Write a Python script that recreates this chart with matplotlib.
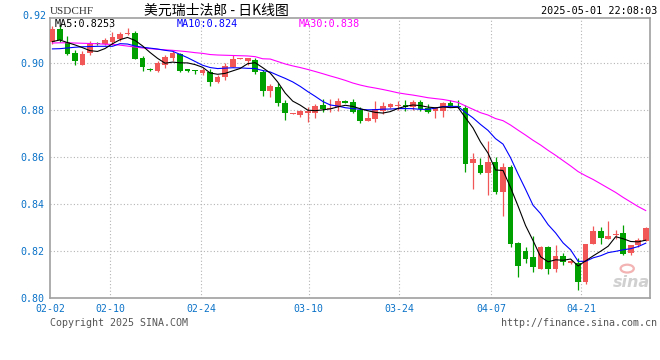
import numpy as np
import pandas as pd
import matplotlib
matplotlib.use("Agg")
import matplotlib.pyplot as plt
from matplotlib.patches import Ellipse

# ---------------- data ----------------
opens = [0.9089, 0.9145, 0.9089, 0.9043, 0.8993, 0.9043, 0.9086, 0.9081, 0.9089, 0.9103,
         0.9123, 0.9129, 0.9021, 0.8976, 0.8967, 0.8993, 0.9021, 0.9038, 0.8970, 0.8966,
         0.8957, 0.8963, 0.8920, 0.8939, 0.8984, 0.9017, 0.9010, 0.9013, 0.8960, 0.8882,
         0.8899, 0.8831, 0.8783, 0.8779, 0.8788, 0.8788, 0.8821, 0.8804, 0.8814, 0.8840,
         0.8834, 0.8800, 0.8755, 0.8762, 0.8797, 0.8811, 0.8818, 0.8822, 0.8814, 0.8833,
         0.8807, 0.8796, 0.8797, 0.8829, 0.8818, 0.8810, 0.8573, 0.8566, 0.8533, 0.8577,
         0.8450, 0.8556, 0.8233, 0.8200, 0.8173, 0.8123, 0.8218, 0.8122, 0.8179, 0.8148,
         0.8148, 0.8069, 0.8230, 0.8285, 0.8250, 0.8267, 0.8275, 0.8190, 0.8226, 0.8244]
highs = [0.9157, 0.9160, 0.9114, 0.9057, 0.9051, 0.9095, 0.9091, 0.9106, 0.9132, 0.9132,
         0.9149, 0.9135, 0.9028, 0.8980, 0.9010, 0.9035, 0.9050, 0.9043, 0.8975, 0.8972,
         0.8979, 0.8973, 0.8947, 0.8998, 0.9034, 0.9023, 0.9021, 0.9021, 0.8970, 0.8911,
         0.8917, 0.8843, 0.8789, 0.8800, 0.8811, 0.8826, 0.8845, 0.8845, 0.8852, 0.8843,
         0.8845, 0.8814, 0.8790, 0.8838, 0.8832, 0.8828, 0.8838, 0.8843, 0.8843, 0.8843,
         0.8824, 0.8814, 0.8833, 0.8843, 0.8843, 0.8821, 0.8616, 0.8594, 0.8668, 0.8599,
         0.8573, 0.8566, 0.8240, 0.8218, 0.8264, 0.8221, 0.8221, 0.8226, 0.8193, 0.8160,
         0.8169, 0.8230, 0.8306, 0.8303, 0.8328, 0.8289, 0.8311, 0.8226, 0.8254, 0.8303]
lows = [0.9081, 0.9090, 0.9033, 0.8993, 0.8993, 0.9033, 0.9077, 0.9077, 0.9078, 0.9095,
        0.9118, 0.9015, 0.8965, 0.8966, 0.8962, 0.8979, 0.9007, 0.8963, 0.8960, 0.8955,
        0.8948, 0.8903, 0.8913, 0.8928, 0.8984, 0.9015, 0.8991, 0.8953, 0.8860, 0.8856,
        0.8818, 0.8758, 0.8783, 0.8770, 0.8749, 0.8766, 0.8791, 0.8791, 0.8797, 0.8829,
        0.8786, 0.8745, 0.8755, 0.8748, 0.8784, 0.8807, 0.8800, 0.8794, 0.8802, 0.8797,
        0.8786, 0.8767, 0.8772, 0.8814, 0.8807, 0.8537, 0.8464, 0.8528, 0.8438, 0.8443,
        0.8350, 0.8218, 0.8091, 0.8148, 0.8109, 0.8123, 0.8102, 0.8112, 0.8140, 0.8145,
        0.8034, 0.8058, 0.8230, 0.8230, 0.8250, 0.8250, 0.8183, 0.8181, 0.8218, 0.8244]
closes = [0.9145, 0.9099, 0.9038, 0.9007, 0.9038, 0.9081, 0.9082, 0.9099, 0.9109, 0.9125,
          0.9129, 0.9018, 0.8983, 0.8969, 0.9000, 0.9026, 0.9041, 0.8967, 0.8968, 0.8964,
          0.8969, 0.8920, 0.8939, 0.8987, 0.9017, 0.9021, 0.9021, 0.8960, 0.8882, 0.8903,
          0.8829, 0.8786, 0.8789, 0.8796, 0.8797, 0.8817, 0.8804, 0.8810, 0.8838, 0.8831,
          0.8793, 0.8755, 0.8767, 0.8803, 0.8817, 0.8824, 0.8822, 0.8811, 0.8833, 0.8803,
          0.8793, 0.8807, 0.8829, 0.8818, 0.8811, 0.8570, 0.8591, 0.8531, 0.8580, 0.8452,
          0.8559, 0.8230, 0.8136, 0.8165, 0.8131, 0.8216, 0.8122, 0.8179, 0.8155, 0.8157,
          0.8069, 0.8230, 0.8285, 0.8254, 0.8264, 0.8271, 0.8187, 0.8226, 0.8247, 0.8299]

ma5_head = [0.9091, 0.9098, 0.9087, 0.9077]
ma10_head = [0.9060, 0.9061, 0.9064, 0.9067, 0.9069, 0.9070, 0.9071, 0.9071, 0.9071]
ma30_head = [0.9085, 0.9086, 0.9086, 0.9085, 0.9084, 0.9083, 0.9082, 0.9080, 0.9079, 0.9076,
             0.9072, 0.9068, 0.9064, 0.9061, 0.9058, 0.9056, 0.9054, 0.9051, 0.9048, 0.9044,
             0.9041, 0.9036, 0.9034, 0.9033, 0.9032, 0.9031, 0.9030, 0.9027, 0.9018]

date_labels = ['02-02', '02-10', '02-24', '03-10', '03-24', '04-07', '04-21']
y_ticks = [0.80, 0.82, 0.84, 0.86, 0.88, 0.90, 0.92]

title_code = 'USDCHF'
title_name = '美元瑞士法郎 - 日K线图'
timestamp = '2025-05-01 22:08:03'
ma_labels = ['MA5:0.8253', 'MA10:0.824', 'MA30:0.838']

# ---------------- layout / style ----------------
W, H = 660, 360
date_pos = [-0.32, 7.7, 19.8, 34.1, 46.2, 58.4, 70.4]
UP = '#f25757'
DOWN = '#00a000'
BLUE_TXT = '#0a72c8'
GRID = '#b4b4b4'
FRAME = '#a0a0a0'
MONO = 'DejaVu Sans Mono'

fig = plt.figure(figsize=(W / 100, H / 100), dpi=100)
fig.patch.set_facecolor('white')
ax = fig.add_axes([50 / W, 1 - 298 / H, 600 / W, 280 / H])

o = np.array(opens); h = np.array(highs); l = np.array(lows); c = np.array(closes)
x = np.arange(len(c))
up = c >= o
cols = np.where(up, UP, DOWN)

# grid
for yv in y_ticks[1:-1]:
    ax.axhline(yv, color=GRID, lw=0.8, ls=(0, (1, 2)), zorder=0)
for xv in date_pos[1:]:
    ax.axvline(xv, color=GRID, lw=0.8, ls=(0, (1, 2)), zorder=0)

# watermark (behind marks)
ax.text(0.969, 0.03, 'sina', transform=ax.transAxes, fontfamily='DejaVu Sans', fontsize=11.5,
        fontweight='bold', style='italic', color='#d0d0d0', ha='center', va='bottom', zorder=1)
ax.add_patch(Ellipse((0.962, 0.105), 0.022, 0.028, transform=ax.transAxes, fill=False,
                     edgecolor='#f3b3b3', lw=1.6, zorder=1))

# candles
ax.vlines(x, l, h, colors=cols, lw=0.9, zorder=2)
body_h = np.maximum(np.abs(c - o), 0.00045)
ax.bar(x, body_h, bottom=np.minimum(o, c), width=0.76, color=cols, linewidth=0, zorder=3)

# moving averages
s = pd.Series(c)
ma5 = s.rolling(5).mean().to_numpy()
ma10 = s.rolling(10).mean().to_numpy()
ma30 = s.rolling(30).mean().to_numpy()
ma5[:len(ma5_head)] = ma5_head
ma10[:len(ma10_head)] = ma10_head
ma30[:len(ma30_head)] = ma30_head
ax.plot(x, ma30, color='#ff00ff', lw=0.8, zorder=4)
ax.plot(x, ma10, color='#0000ff', lw=0.8, zorder=5)
ax.plot(x, ma5, color='black', lw=0.8, zorder=6)

ax.set_xlim(-0.32, 79.57)
ax.set_ylim(0.80, 0.92 - 2 / 2350)

for sp in ax.spines.values():
    sp.set_color(FRAME)
    sp.set_linewidth(1.2)

ax.set_yticks(y_ticks[:-1])
ax.set_yticklabels([f'{v:.2f}' for v in y_ticks[:-1]], fontfamily=MONO, fontsize=7.2, color=BLUE_TXT)
ax.text(-0.006, y_ticks[-1], f'{y_ticks[-1]:.2f}', transform=ax.get_yaxis_transform(),
        ha='right', va='center', fontfamily=MONO, fontsize=7.2, color=BLUE_TXT, clip_on=False)
ax.set_xticks(date_pos)
ax.set_xticklabels(date_labels, fontfamily=MONO, fontsize=7.1, color=BLUE_TXT)
ax.tick_params(axis='both', length=0)
ax.tick_params(axis='y', pad=4)
ax.tick_params(axis='x', pad=4)

# header texts
fig.text(50 / W, 1 - 11 / H, title_code, fontfamily='Liberation Serif', fontsize=8, color='#333333',
         ha='left', va='center')
fig.text(216 / W, 1 - 11 / H, title_name, fontfamily=['Noto Sans CJK SC', 'DejaVu Sans'], fontsize=10,
         color='black', ha='center', va='center')
fig.text(657 / W, 1 - 11 / H, timestamp, fontfamily=MONO, fontsize=7.3, color='black',
         ha='right', va='center')

# MA legend inside plot
for txt, xp, col in zip(ma_labels, [55, 177, 299], ['black', '#0000ff', '#ff00ff']):
    fig.text(xp / W, 1 - 24 / H, txt, fontfamily=MONO, fontsize=7.3, color=col, ha='left', va='center')

# footer
fig.text(50 / W, 1 - 323.5 / H, 'Copyright 2025 SINA.COM', fontfamily=MONO, fontsize=7.2,
         color='#555555', ha='left', va='center')
fig.text(657 / W, 1 - 323.5 / H, 'http://finance.sina.com.cn', fontfamily=MONO, fontsize=7.2,
         color='#555555', ha='right', va='center')

fig.savefig('out.png', dpi=100, facecolor='white')
